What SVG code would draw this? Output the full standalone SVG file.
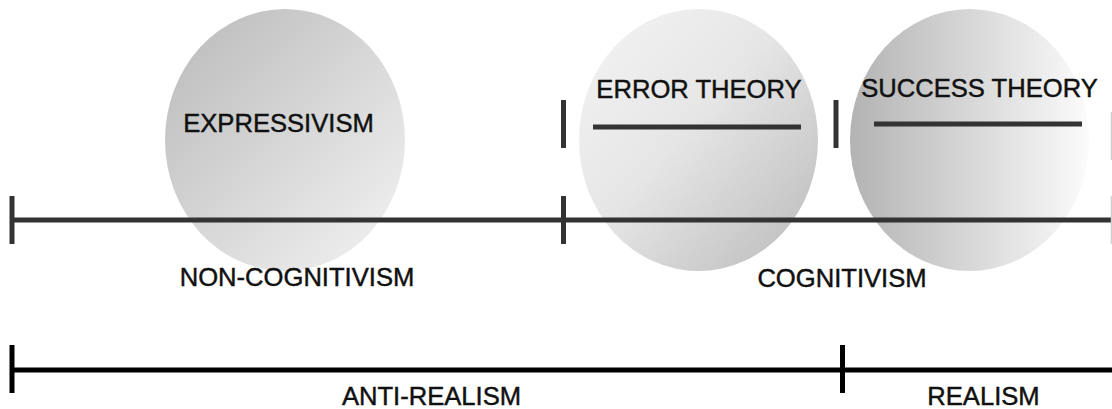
<svg xmlns="http://www.w3.org/2000/svg" width="1112" height="409" viewBox="0 0 1112 409">
<style>
.lbl{font-family:"Liberation Sans",Arial,sans-serif;font-size:25.6px;fill:#111;stroke:#111;stroke-width:0.45px;text-anchor:middle}
.gl{stroke:#333;stroke-width:5;fill:none}
.bl{stroke:#000;stroke-width:5;fill:none}
.faint{stroke:#cfcfcf;stroke-width:1.5;fill:none}
</style>
<defs>
<linearGradient id="g1" x1="0" y1="0" x2="1" y2="1">
<stop offset="0" stop-color="#b9b9b9"/>
<stop offset="1" stop-color="#f4f4f4"/>
</linearGradient>
<linearGradient id="g2" x1="0" y1="0" x2="1" y2="1">
<stop offset="0" stop-color="#f4f4f4"/>
<stop offset="0.45" stop-color="#e6e6e6"/>
<stop offset="1" stop-color="#b9b9b9"/>
</linearGradient>
<linearGradient id="g3" x1="0" y1="0" x2="1" y2="0">
<stop offset="0" stop-color="#b3b3b3"/>
<stop offset="1" stop-color="#fbfbfb"/>
</linearGradient>
</defs>
<rect width="1112" height="409" fill="#fff"/>

<g id="expressivism">
<ellipse cx="285" cy="140" rx="120" ry="131" fill="url(#g1)"/>
<text class="lbl" x="278.5" y="132">EXPRESSIVISM</text>
</g>
<g id="error-theory">
<ellipse cx="698.5" cy="140" rx="119.5" ry="131" fill="url(#g2)"/>
<text class="lbl" x="699" y="98">ERROR THEORY</text>
</g>
<g id="success-theory">
<ellipse cx="969.5" cy="140" rx="119.5" ry="131" fill="url(#g3)"/>
<text class="lbl" x="979.5" y="96.5">SUCCESS THEORY</text>
</g>

<g id="connectors">
<line class="gl" x1="12" y1="220" x2="1112" y2="220"/>
<line class="gl" x1="12" y1="196" x2="12" y2="244"/>
<line class="gl" x1="563.5" y1="196" x2="563.5" y2="244"/>
<line class="faint" x1="1111.5" y1="196" x2="1111.5" y2="244"/>
<line class="gl" x1="563.5" y1="100" x2="563.5" y2="148"/>
<line class="gl" x1="836" y1="100" x2="836" y2="148"/>
<line class="faint" x1="1111.5" y1="112" x2="1111.5" y2="160"/>
<line class="gl" x1="593" y1="127" x2="801" y2="127"/>
<line class="gl" x1="874" y1="124" x2="1082" y2="124"/>
<line class="bl" x1="12" y1="370" x2="1112" y2="370"/>
<line class="bl" x1="12" y1="345" x2="12" y2="393"/>
<line class="bl" x1="842.5" y1="345" x2="842.5" y2="393"/>
</g>

<g id="labels">
<text class="lbl" x="297" y="286">NON-COGNITIVISM</text>
<text class="lbl" x="842" y="287">COGNITIVISM</text>
<text class="lbl" x="431.5" y="405">ANTI-REALISM</text>
<text class="lbl" x="983.5" y="405">REALISM</text>
</g>
</svg>
